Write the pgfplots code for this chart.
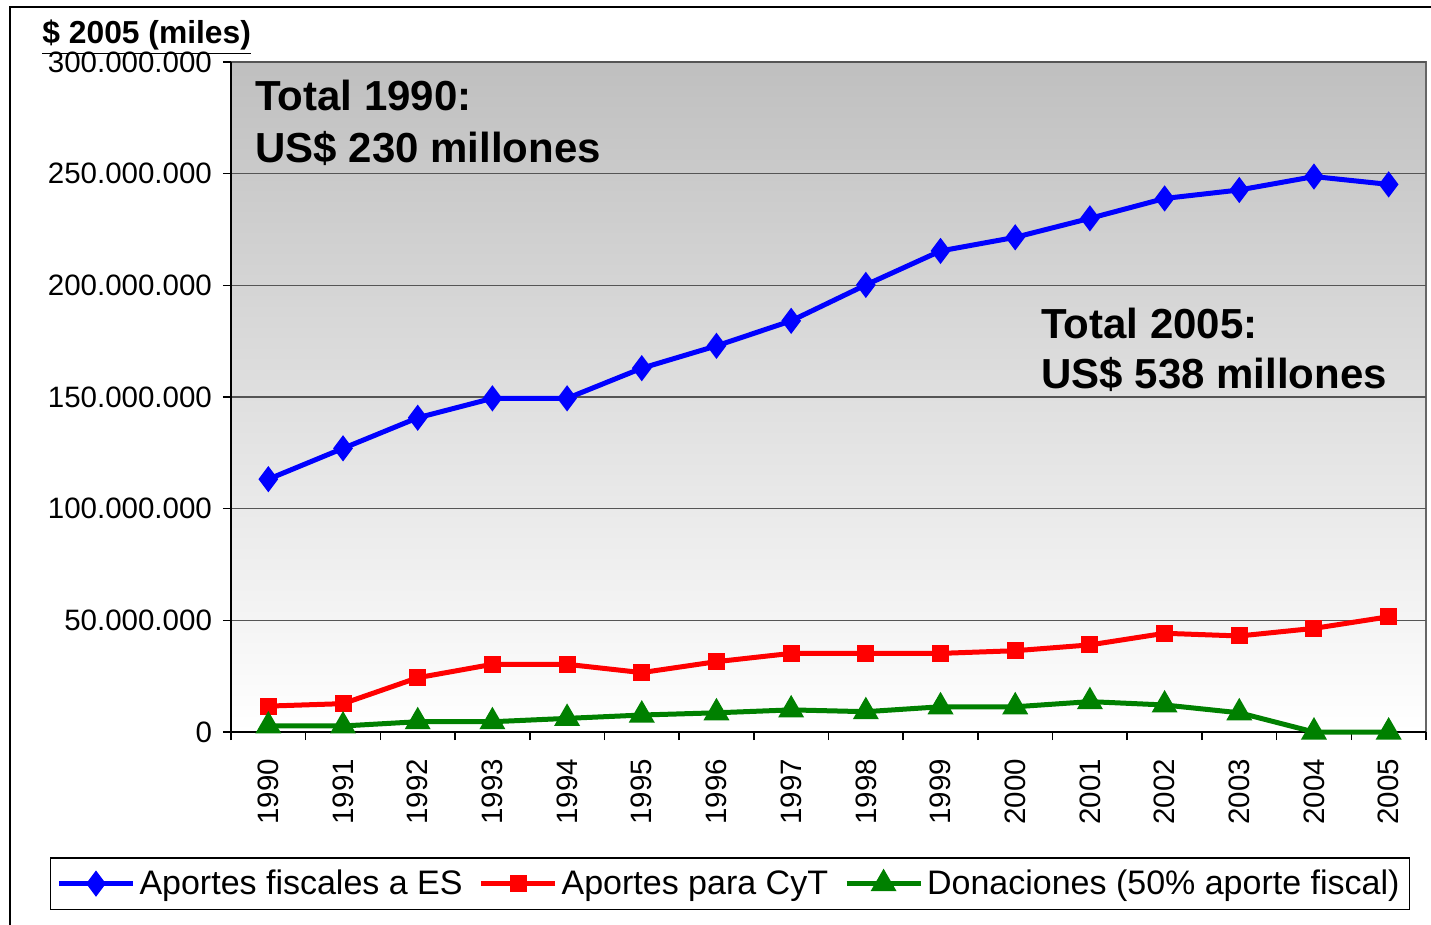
\documentclass[border=0pt]{standalone}
\usepackage{fontspec}
\setmainfont{Liberation Sans}
\usepackage{pgfplots}
\pgfplotsset{compat=1.18}
\definecolor{serfis}{HTML}{0000FF}
\definecolor{sercyt}{HTML}{FF0000}
\definecolor{serdon}{HTML}{008000}
\definecolor{gridc}{HTML}{555555}

\begin{document}
\begin{tikzpicture}
\useasboundingbox (0,0) rectangle (715.5pt,-462.5pt);
% outer chart frame (cut by the page on the right and bottom)
\draw[line width=0.8pt] (5pt,-470pt) -- (5pt,-3.5pt) -- (720pt,-3.5pt);
\begin{axis}[
  at={(115.5pt,-366pt)}, anchor=south west,
  scale only axis, width=597.5pt, height=335pt,
  xmin=-0.5, xmax=15.5, ymin=0, ymax=300000000,
  clip=false,
  axis lines*=left,
  axis line style={black, line width=1pt},
  axis background/.style={top color=gray!50, bottom color=white, draw=gray!80!black, line width=0.8pt},
  tick align=outside,
  major tick length=4pt,
  tick style={black, line width=0.8pt},
  xtick={-0.5,0.5,...,15.5},
  xticklabels={},
  extra x ticks={0,1,2,3,4,5,6,7,8,9,10,11,12,13,14,15},
  extra x tick labels={1990,1991,1992,1993,1994,1995,1996,1997,1998,1999,2000,2001,2002,2003,2004,2005},
  extra x tick style={major tick length=0pt,
    tick label style={rotate=90, anchor=east, xshift=-10pt,
      font=\fontsize{14.75}{17}\selectfont}},
  scaled y ticks=false,
  ytick={0,50000000,100000000,150000000,200000000,250000000,300000000},
  yticklabels={0,50.000.000,100.000.000,150.000.000,200.000.000,250.000.000,300.000.000},
  yticklabel style={font=\fontsize{14.75}{17}\selectfont, xshift=-2pt},
  ymajorgrids,
  grid style={gridc, line width=0.6pt},
  legend columns=3,
  legend cell align=left,
  legend style={at={(0.4176,-0.1866)}, anchor=north, draw=black, line width=0.8pt,
    font=\fontsize{17}{20}\selectfont, inner xsep=3pt, inner ysep=4pt,
    /tikz/every even column/.append style={column sep=6pt}},
  legend image code/.code={
    \draw[mark repeat=2, mark phase=2, #1] plot coordinates {(0pt,0pt) (18.5pt,0pt) (37pt,0pt)};},
]
\addplot[serfis, line width=2.5pt, mark=diamond*, mark size=4.5pt, mark options={solid}] coordinates {
  (0,113200000) (1,127000000) (2,140700000) (3,149400000) (4,149400000) (5,162900000)
  (6,172900000) (7,184100000) (8,200200000) (9,215400000) (10,221500000) (11,230000000)
  (12,238900000) (13,242700000) (14,248700000) (15,245200000)};
\addplot[sercyt, line width=2.5pt, mark=square*, mark size=3pt, mark options={solid}] coordinates {
  (0,11600000) (1,12700000) (2,24300000) (3,30300000) (4,30300000) (5,26600000)
  (6,31500000) (7,35200000) (8,35200000) (9,35200000) (10,36400000) (11,39000000)
  (12,44200000) (13,43000000) (14,46400000) (15,51600000)};
\addplot[serdon, line width=2.5pt, mark=triangle*, mark size=5pt, mark options={solid}] coordinates {
  (0,2700000) (1,2700000) (2,4600000) (3,4600000) (4,6100000) (5,7600000)
  (6,8600000) (7,9900000) (8,9100000) (9,11300000) (10,11300000) (11,13600000)
  (12,12100000) (13,8600000) (14,0) (15,0)};
\legend{Aportes fiscales a ES, Aportes para CyT, Donaciones (50\% aporte fiscal)}
\end{axis}
% unit label and annotations
\node[anchor=base west, inner sep=0pt, font=\bfseries\fontsize{15.9}{18}\selectfont] at (21pt,-22pt) {\underline{\$ 2005 (miles)}};
\node[anchor=base west, inner sep=0pt, font=\bfseries\fontsize{21}{25}\selectfont] at (127.5pt,-55.5pt) {Total 1990:};
\node[anchor=base west, inner sep=0pt, font=\bfseries\fontsize{21}{25}\selectfont] at (127.5pt,-81.5pt) {US\$ 230 millones};
\node[anchor=base west, inner sep=0pt, font=\bfseries\fontsize{21}{25}\selectfont] at (520.5pt,-169.5pt) {Total 2005:};
\node[anchor=base west, inner sep=0pt, font=\bfseries\fontsize{21}{25}\selectfont] at (520.5pt,-194.5pt) {US\$ 538 millones};
\end{tikzpicture}
\end{document}
